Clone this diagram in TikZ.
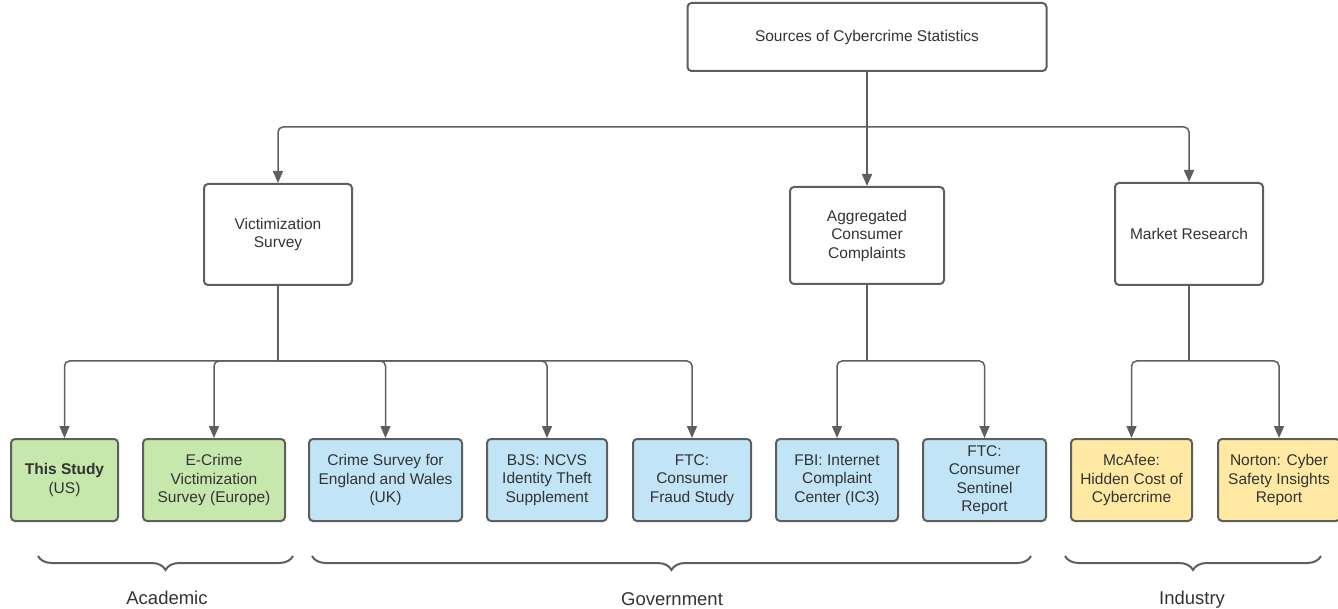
\documentclass[tikz,border=0pt]{standalone}
\usepackage{fontspec}
\setmainfont{Liberation Sans}
\usetikzlibrary{arrows.meta,decorations.pathreplacing}
\definecolor{strk}{HTML}{5E5E5E}
\definecolor{txt}{HTML}{333333}
\definecolor{grn}{HTML}{C7E8AC}
\definecolor{blu}{HTML}{C1E4F7}
\definecolor{ylw}{HTML}{FFE9A3}
\tikzset{
  box/.style={draw=strk, line width=2pt, rounded corners=4pt, align=center,
    text=txt, inner sep=2pt, font=\fontsize{15.5}{18.5}\selectfont},
  conn/.style={draw=strk, line width=1.5pt, rounded corners=5pt,
    -{Triangle[length=12pt,width=10pt]}},
  link/.style={draw=strk, line width=1.5pt, rounded corners=5pt},
  bracestyle/.style={draw=strk, line width=2pt,
    decorate, decoration={brace, mirror, amplitude=14pt}},
  grplabel/.style={text=txt, font=\fontsize{18.5}{22}\selectfont}
}
\begin{document}
\begin{tikzpicture}[x=1pt,y=-1pt]
\useasboundingbox (0,0) rectangle (1338,609);
% top
\node[box, minimum width=359pt, minimum height=68pt] (root) at (867,37) {Sources of Cybercrime Statistics};
% second level
\node[box, minimum width=148pt, minimum height=101pt] (vs) at (278,234.5) {Victimization\\Survey};
\node[box, minimum width=154pt, minimum height=97pt] (agg) at (867,235.5) {Aggregated\\Consumer\\Complaints};
\node[box, minimum width=148pt, minimum height=102pt] (mr) at (1189,234) {Market Research};
% bottom level
\node[box, fill=grn, minimum width=107pt, minimum height=82pt] (ts) at (64.5,480) {\textbf{This Study}\\(US)};
\node[box, fill=grn, minimum width=142pt, minimum height=82pt] (ec) at (214,480) {E-Crime\\Victimization\\Survey (Europe)};
\node[box, fill=blu, minimum width=153pt, minimum height=82pt] (cs) at (385.5,480) {Crime Survey for\\England and Wales\\(UK)};
\node[box, fill=blu, minimum width=120pt, minimum height=82pt] (bjs) at (547,480) {BJS: NCVS\\Identity Theft\\Supplement};
\node[box, fill=blu, minimum width=118pt, minimum height=82pt] (ftcf) at (692,480) {FTC:\\Consumer\\Fraud Study};
\node[box, fill=blu, minimum width=122pt, minimum height=82pt] (fbi) at (837,480) {FBI: Internet\\Complaint\\Center (IC3)};
\node[box, fill=blu, minimum width=123pt, minimum height=82pt] (ftcs) at (984.5,480) {FTC:\\Consumer\\Sentinel\\Report};
\node[box, fill=ylw, minimum width=121pt, minimum height=82pt] (mca) at (1131.5,480) {McAfee:\\Hidden Cost of\\Cybercrime};
\node[box, fill=ylw, minimum width=122pt, minimum height=82pt] (nor) at (1279,480) {Norton: Cyber\\Safety Insights\\Report};
% junctions
\coordinate (j0) at (867,127);
\coordinate (j1) at (278,361);
\coordinate (j2) at (867,361);
\coordinate (j3) at (1189,361);
% connectors
\draw[link] (root.south) -- (j0);
\draw[conn] (j0) -| (vs.north);
\draw[conn] (j0) -- (agg.north);
\draw[conn] (j0) -| (mr.north);
\draw[link] (vs.south) -- (j1);
\draw[conn] (j1) -| (ts.north);
\draw[conn] (j1) -| (ec.north);
\draw[conn] (j1) -| (cs.north);
\draw[conn] (j1) -| (bjs.north);
\draw[conn] (j1) -| (ftcf.north);
\draw[link] (agg.south) -- (j2);
\draw[conn] (j2) -| (fbi.north);
\draw[conn] (j2) -| (ftcs.north);
\draw[link] (mr.south) -- (j3);
\draw[conn] (j3) -| (mca.north);
\draw[conn] (j3) -| (nor.north);
% braces
\coordinate (a1) at (38,556); \coordinate (a2) at (293,556);
\coordinate (g1) at (312,556); \coordinate (g2) at (1031,556);
\coordinate (i1) at (1065,556); \coordinate (i2) at (1321,556);
\draw[bracestyle] (a1) -- (a2);
\draw[bracestyle] (g1) -- (g2);
\draw[bracestyle] (i1) -- (i2);
\node[grplabel] (acad) at (167,598) {Academic};
\node[grplabel] (gov) at (672,599) {Government};
\node[grplabel] (ind) at (1192,600) {Industry};
\end{tikzpicture}
\end{document}
